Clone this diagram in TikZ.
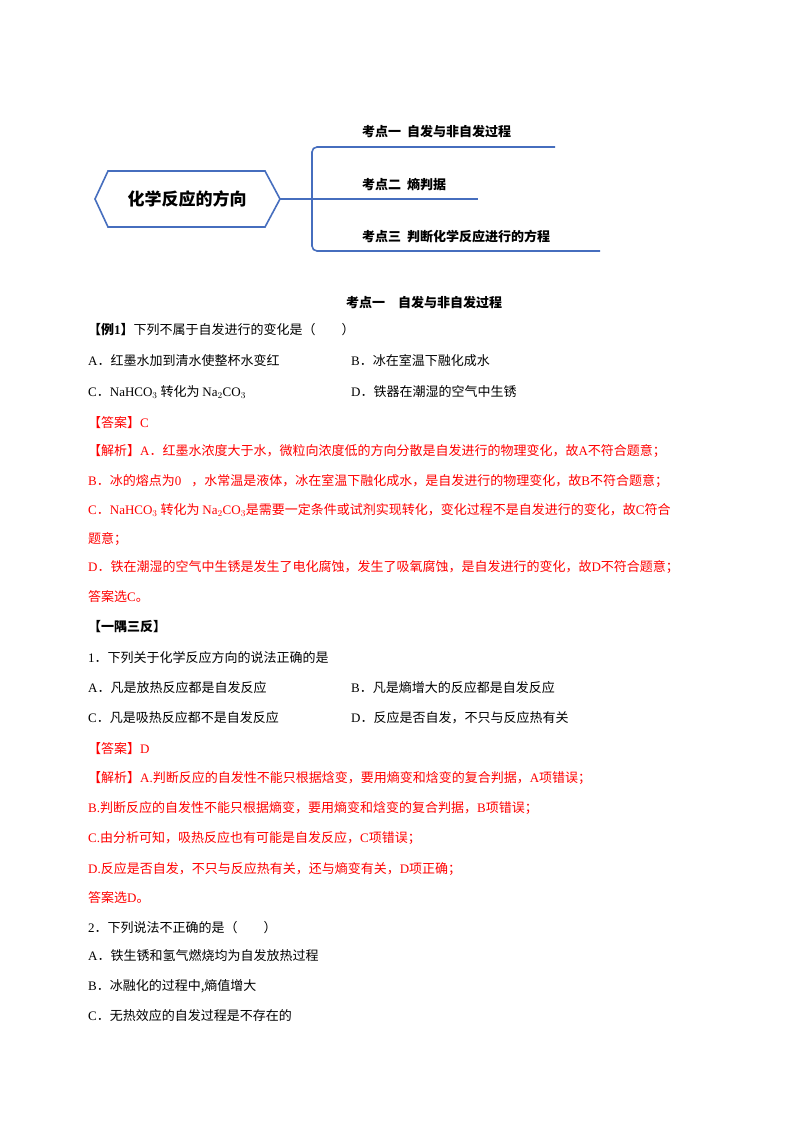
\documentclass[tikz,border=0pt]{standalone}
\usepackage{fontspec}
\setmainfont{Noto Sans CJK SC}
\newfontfamily\lat{Liberation Serif}
\definecolor{mblue}{RGB}{70,110,190}
\definecolor{ared}{RGB}{255,0,0}
\tikzset{tx/.style={anchor=west,inner sep=0pt,font=\fontsize{13}{15}\selectfont},
rt/.style={tx,text=ared},
bt/.style={tx,font=\fontsize{13}{15}\selectfont\bfseries},
br/.style={draw=mblue,line width=1.6pt}}
\newcommand{\LL}[1]{{\lat #1}}
\begin{document}
\begin{tikzpicture}[x=1pt,y=-1pt]
\useasboundingbox[fill=white] (0,0) rectangle (800,1132);
% mind map
\draw[br] (95,199) -- (108,171) -- (265,171) -- (280,199) -- (265,227) -- (108,227) -- cycle;
\node[font=\fontsize{17}{19}\selectfont\bfseries] (root) at (187,199) {化学反应的方向};
\coordinate (j) at (312,199);
\draw[br] (280,199) -- (j);
\draw[br,rounded corners=5pt] (555,147) -- (312,147) -- (312,251) -- (600,251);
\draw[br] (j) -- (478,199);
\node[bt] (k1) at (362,132) {考点一\ \ 自发与非自发过程};
\node[bt] (k2) at (362,185) {考点二\ \ 熵判据};
\node[bt] (k3) at (362,237) {考点三\ \ 判断化学反应进行的方程};
\node[bt,anchor=center] (h1) at (424,303) {考点一\quad 自发与非自发过程};
% body
\node[tx] (l1) at (88,330) {\textbf{【例\LL{1}】}下列不属于自发进行的变化是（\qquad ）};
\node[tx] (l2) at (88,361) {\LL{A}．红墨水加到清水使整杯水变红};
\node[tx] (l2b) at (351,361) {\LL{B}．冰在室温下融化成水};
\node[tx] (l3) at (88,392) {\LL{C}．\LL{NaHCO$_3$} 转化为 \LL{Na$_2$CO$_3$}};
\node[tx] (l3b) at (351,392) {\LL{D}．铁器在潮湿的空气中生锈};
\node[rt] (l4) at (88,423) {【答案】\LL{C}};
\node[rt] (l5) at (88,451) {【解析】\LL{A}．红墨水浓度大于水，微粒向浓度低的方向分散是自发进行的物理变化，故\LL{A}不符合题意；};
\node[rt] (l6) at (88,481) {\LL{B}．冰的熔点为\LL{0℃}，水常温是液体，冰在室温下融化成水，是自发进行的物理变化，故\LL{B}不符合题意；};
\node[rt] (l7) at (88,510) {\LL{C}．\LL{NaHCO$_3$} 转化为 \LL{Na$_2$CO$_3$}是需要一定条件或试剂实现转化，变化过程不是自发进行的变化，故\LL{C}符合};
\node[rt] (l8) at (88,539) {题意；};
\node[rt] (l9) at (88,567) {\LL{D}．铁在潮湿的空气中生锈是发生了电化腐蚀，发生了吸氧腐蚀，是自发进行的变化，故\LL{D}不符合题意；};
\node[rt] (l10) at (88,597) {答案选\LL{C}。};
\node[tx] (l11) at (88,627) {\textbf{【一隅三反】}};
\node[tx] (l12) at (88,658) {\LL{1}．下列关于化学反应方向的说法正确的是};
\node[tx] (l13) at (88,688) {\LL{A}．凡是放热反应都是自发反应};
\node[tx] (l13b) at (351,688) {\LL{B}．凡是熵增大的反应都是自发反应};
\node[tx] (l14) at (88,718) {\LL{C}．凡是吸热反应都不是自发反应};
\node[tx] (l14b) at (351,718) {\LL{D}．反应是否自发，不只与反应热有关};
\node[rt] (l15) at (88,749) {【答案】\LL{D}};
\node[rt] (l16) at (88,778) {【解析】\LL{A.}判断反应的自发性不能只根据焓变，要用熵变和焓变的复合判据，\LL{A}项错误；};
\node[rt] (l17) at (88,808) {\LL{B.}判断反应的自发性不能只根据熵变，要用熵变和焓变的复合判据，\LL{B}项错误；};
\node[rt] (l18) at (88,838) {\LL{C.}由分析可知，吸热反应也有可能是自发反应，\LL{C}项错误；};
\node[rt] (l19) at (88,869) {\LL{D.}反应是否自发，不只与反应热有关，还与熵变有关，\LL{D}项正确；};
\node[rt] (l20) at (88,898) {答案选\LL{D}。};
\node[tx] (l21) at (88,928) {\LL{2}．下列说法不正确的是（\qquad ）};
\node[tx] (l22) at (88,956) {\LL{A}．铁生锈和氢气燃烧均为自发放热过程};
\node[tx] (l23) at (88,986) {\LL{B}．冰融化的过程中,熵值增大};
\node[tx] (l24) at (88,1016) {\LL{C}．无热效应的自发过程是不存在的};
\end{tikzpicture}
\end{document}
